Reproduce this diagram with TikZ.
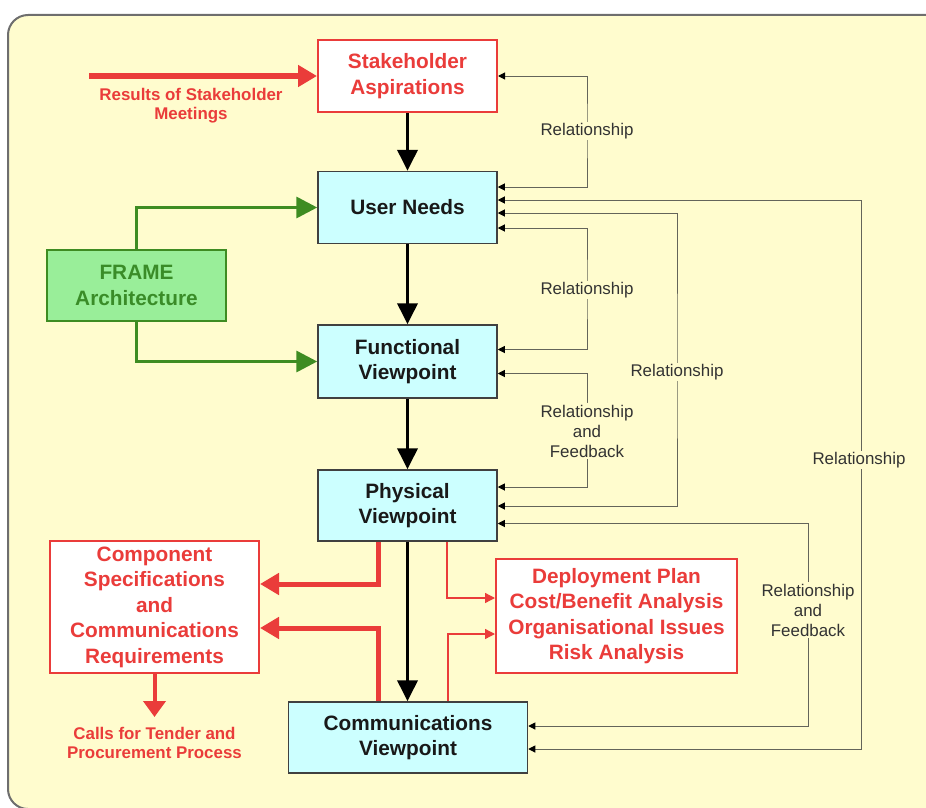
\documentclass[tikz,border=0pt]{standalone}
\usepackage{fontspec}
\setmainfont{Liberation Sans}
\usetikzlibrary{arrows.meta,calc}
\definecolor{bg}{RGB}{255,252,206}
\definecolor{myred}{RGB}{234,60,58}
\definecolor{cyanfill}{RGB}{204,255,255}
\definecolor{greenfill}{RGB}{153,238,153}
\definecolor{greenline}{RGB}{62,140,34}
\definecolor{greentext}{RGB}{58,140,40}
\definecolor{relgray}{RGB}{100,100,90}
\definecolor{framegray}{RGB}{110,110,110}
\begin{document}
\begin{tikzpicture}[x=1pt,y=-1pt,
  boxtext/.style={align=center, inner sep=0pt, font=\fontsize{20.8}{25.5}\selectfont\bfseries},
  cyanbox/.style={boxtext, draw=black!75, line width=1.5pt, fill=cyanfill, text=black!90},
  redbox/.style={boxtext, draw=myred, line width=2pt, fill=white, text=myred},
  greenbox/.style={boxtext, draw=greenline, line width=2pt, fill=greenfill, text=greentext},
  flow/.style={draw=black, line width=3.8pt, -{Triangle[length=21pt,width=20pt]}},
  gflow/.style={draw=greenline, line width=3.5pt, -{Triangle[length=21pt,width=21pt]}},
  rflow/.style={draw=myred, line width=5pt, -{Triangle[length=19pt,width=21pt]}},
  rthin/.style={draw=myred, line width=1.3pt, -{Triangle[length=10pt,width=10pt]}},
  rel/.style={draw=relgray, line width=1pt, {Triangle[length=7pt,width=7pt,color=black]}-{Triangle[length=7pt,width=7pt,color=black]}},
  rellabel/.style={fill=bg, text=black!80, align=center, inner sep=1.5pt, font=\fontsize{16.9}{20}\selectfont},
  redlabel/.style={text=myred, align=center, inner sep=0pt, font=\fontsize{16.9}{19}\selectfont\bfseries}
]
\useasboundingbox (0,0) rectangle (926,808);
\clip (0,0) rectangle (926,808);
\draw[fill=bg, draw=framegray, line width=2pt, rounded corners=20pt] (8,15) rectangle (960,809);

% nodes
\node[redbox, minimum width=179pt, minimum height=72pt] (SA) at (407.5,76) {Stakeholder\\Aspirations};
\node[cyanbox, minimum width=179pt, minimum height=72pt] (UN) at (407.5,207.5) {User Needs};
\node[cyanbox, minimum width=179pt, minimum height=73pt] (FV) at (407.5,361.5) {Functional\\Viewpoint};
\node[cyanbox, minimum width=179pt, minimum height=71pt] (PV) at (407.5,505.5) {Physical\\Viewpoint};
\node[cyanbox, minimum width=239pt, minimum height=71pt] (CV) at (408,737.5) {Communications\\Viewpoint};
\node[greenbox, minimum width=179pt, minimum height=71pt] (FR) at (136.5,285.5) {FRAME\\Architecture};
\node[redbox, minimum width=209pt, minimum height=132pt] (CS) at (154.5,607) {Component\\Specifications\\and\\Communications\\Requirements};
\node[redbox, minimum width=241pt, minimum height=114pt] (DP) at (616.5,616) {Deployment Plan\\Cost/Benefit Analysis\\Organisational Issues\\Risk Analysis};

% stakeholder input
\coordinate (rin) at (89,76);
\draw[rflow] (rin) -- (SA.west);
\node[redlabel] (rinlab) at (191,106) {Results of Stakeholder\\Meetings};

% main flow
\draw[flow] (SA.south) -- (UN.north);
\draw[flow] (UN.south) -- (FV.north);
\draw[flow] (FV.south) -- (PV.north);
\draw[flow] (PV.south) -- (PV.south |- CV.north);

% FRAME
\draw[gflow] (FR.north) |- (UN.west);
\draw[gflow] (FR.south) |- (FV.west);

% red outputs
\draw[rflow] ($(PV.south)+(-29.5,0)$) |- ($(CS.east)+(0,-23)$);
\draw[rflow] ($(CV.north)+(-30,0)$) |- ($(CS.east)+(0,21)$);
\draw[rthin] ($(PV.south)+(39.5,0)$) |- ($(DP.west)+(0,-18)$);
\draw[rthin] ($(CV.north)+(40,0)$) |- ($(DP.west)+(0,18)$);
\coordinate (tend) at (154.5,717);
\draw[draw=myred, line width=4pt, -{Triangle[length=16pt,width=22pt]}] (CS.south) -- (tend);
\node[redlabel] (tlab) at (154.5,743) {Calls for Tender and\\Procurement Process};

% relationships
\draw[rel] (SA.east) -| (587,130) |- ($(UN.east)+(0,-20.5)$);
\draw[rel] ($(UN.east)+(0,-7.5)$) -| (861,460) |- ($(CV.east)+(0,11.5)$);
\draw[rel] ($(UN.east)+(0,5.5)$) -| (677,372) |- ($(PV.east)+(0,0.5)$);
\draw[rel] ($(UN.east)+(0,20.5)$) -| (587,290) |- ($(FV.east)+(0,-12)$);
\draw[rel] ($(FV.east)+(0,12)$) -| (587,431) |- ($(PV.east)+(0,-18.5)$);
\draw[rel] ($(PV.east)+(0,18)$) -| (808,610) |- ($(CV.east)+(0,-11.5)$);

\node[rellabel] (l1) at (587,131) {Relationship};
\node[rellabel] (l2) at (587,290) {Relationship};
\node[rellabel] (l3) at (587,431) {Relationship\\and\\Feedback};
\node[rellabel] (l4) at (677,372) {Relationship};
\node[rellabel] (l5) at (859,460) {Relationship};
\node[rellabel] (l6) at (808,610) {Relationship\\and\\Feedback};
\end{tikzpicture}
\end{document}
